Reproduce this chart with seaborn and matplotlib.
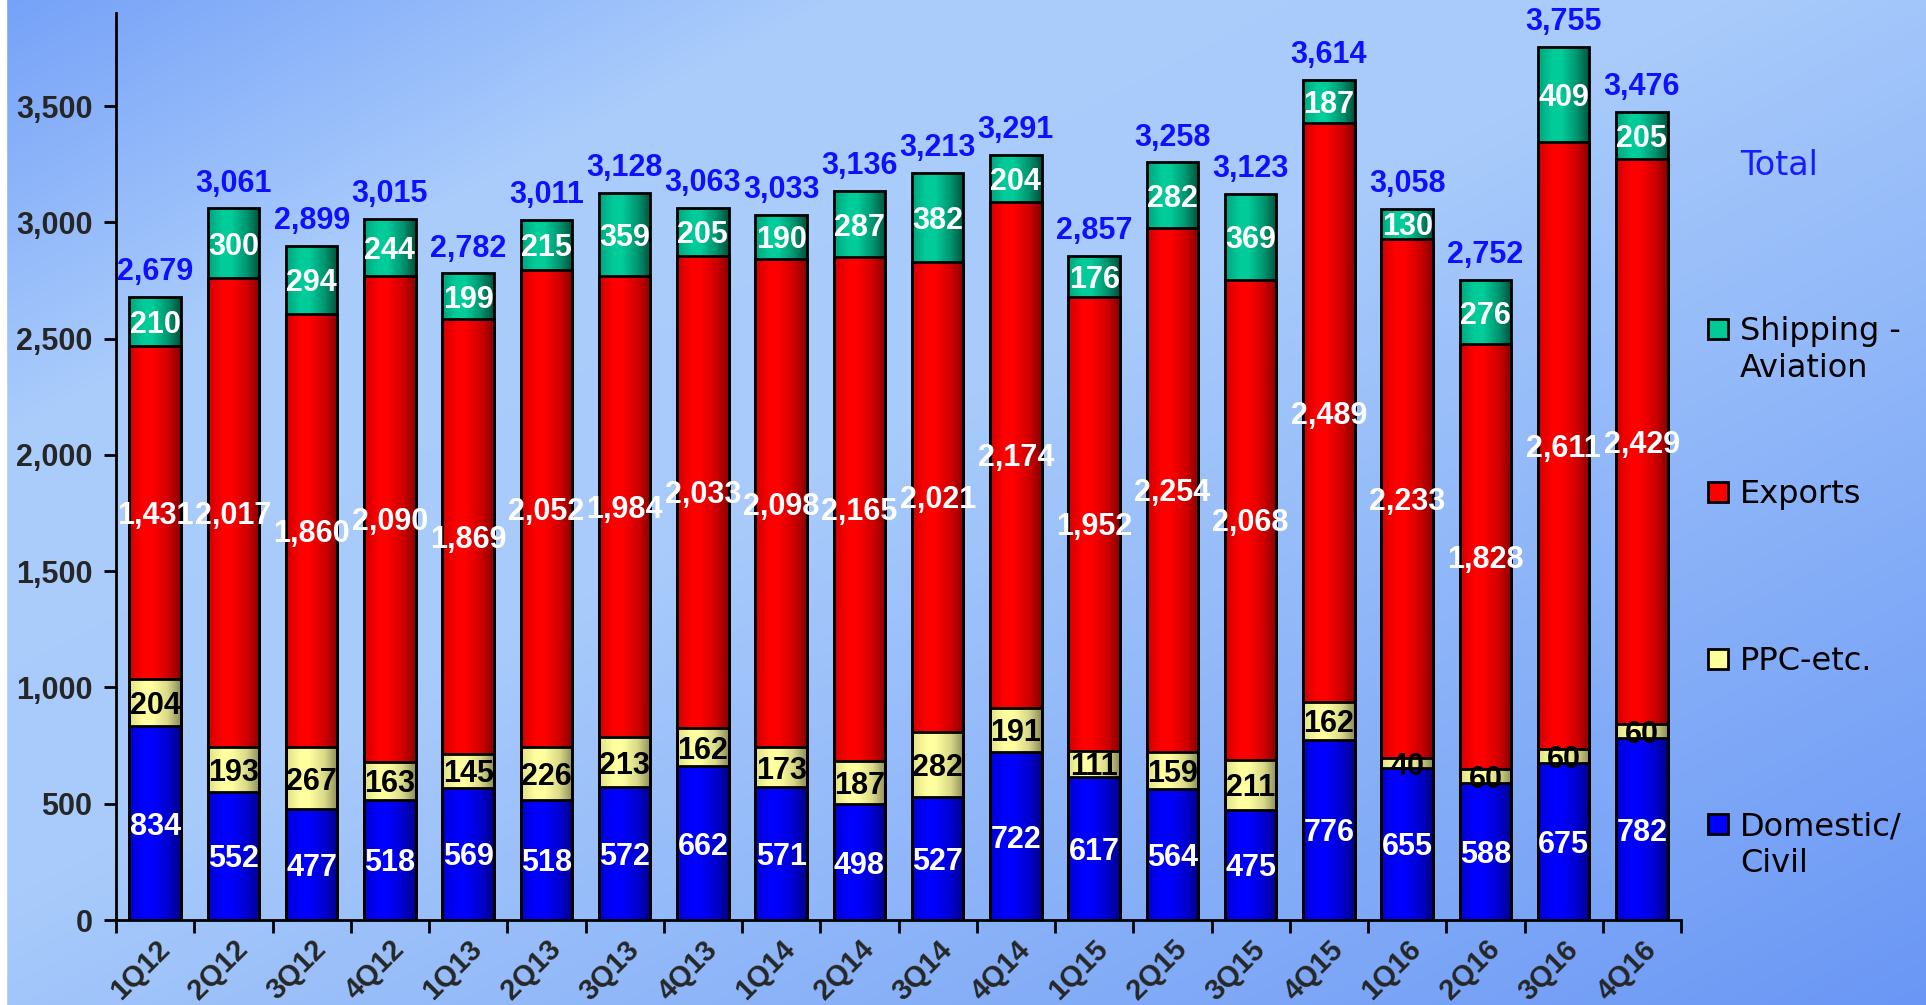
import numpy as np
import pandas as pd
import matplotlib
matplotlib.use("Agg")
import matplotlib.pyplot as plt
from matplotlib.colors import LinearSegmentedColormap
from matplotlib.patches import Rectangle
from matplotlib.ticker import FuncFormatter
from matplotlib.transforms import ScaledTranslation
import seaborn as sns

# ---- data -------------------------------------------------------------
quarters = ["1Q12", "2Q12", "3Q12", "4Q12", "1Q13", "2Q13", "3Q13", "4Q13",
            "1Q14", "2Q14", "3Q14", "4Q14", "1Q15", "2Q15", "3Q15", "4Q15",
            "1Q16", "2Q16", "3Q16", "4Q16"]
domestic = [834, 552, 477, 518, 569, 518, 572, 662, 571, 498,
            527, 722, 617, 564, 475, 776, 655, 588, 675, 782]
ppc = [204, 193, 267, 163, 145, 226, 213, 162, 173, 187,
       282, 191, 111, 159, 211, 162, 40, 60, 60, 60]
exports = [1431, 2017, 1860, 2090, 1869, 2052, 1984, 2033, 2098, 2165,
           2021, 2174, 1952, 2254, 2068, 2489, 2233, 1828, 2611, 2429]
shipping = [210, 300, 294, 244, 199, 215, 359, 205, 190, 287,
            382, 204, 176, 282, 369, 187, 130, 276, 409, 205]
totals = [2679, 3061, 2899, 3015, 2782, 3011, 3128, 3063, 3033, 3136,
          3213, 3291, 2857, 3258, 3123, 3614, 3058, 2752, 3755, 3476]
yticks = [0, 500, 1000, 1500, 2000, 2500, 3000, 3500]

W, H = 1926, 1005
sns.set_theme(style="white")
plt.rcParams["font.family"] = ["Liberation Sans", "DejaVu Sans"]
LEGEND_FONT = ["DejaVu Sans"]

fig = plt.figure(figsize=(W / 100, H / 100), dpi=100)

# ---- background gradient (diagonal: darker corners, light band) --------
bg = fig.add_axes([0, 0, 1, 1], zorder=-10)
yy, xx = np.mgrid[0:H, 0:W]
t = (xx / W + yy / H) / 2.0
stops = [(0.0, "#76a2f8"), (0.22, "#abcdfc"), (0.45, "#a8cbfb"), (1.0, "#6a97f5")]
bg_cmap = LinearSegmentedColormap.from_list("bg", stops)
bg.imshow(bg_cmap(t), extent=(0, 1, 0, 1), aspect="auto", origin="upper")
bg.add_patch(Rectangle((0, 0), 6 / W, 1, color="white", transform=bg.transAxes))
bg.set_xlim(0, 1)
bg.set_ylim(0, 1)
bg.axis("off")

# ---- main axes ----------------------------------------------------------
left, right, bottom, top = 116, 1681, 920, 13
ax = fig.add_axes([left / W, 1 - bottom / H, (right - left) / W, (bottom - top) / H], zorder=1)
ax.set_facecolor("none")

dom_arr = np.array(domestic)
lvl_ppc = dom_arr + np.array(ppc)
lvl_exp = lvl_ppc + np.array(exports)

def shade(name, c_edge_l, c_peak, c_mid, c_dark):
    return LinearSegmentedColormap.from_list(
        name, [(0.0, c_edge_l), (0.28, c_peak), (0.45, c_peak), (0.75, c_mid), (1.0, c_dark)])

layers = [
    ("Shipping -\nAviation", totals, "#00c896",
     shade("g", "#00a47c", "#00cc9a", "#009470", "#00503a")),
    ("Exports", lvl_exp, "#ff0000",
     shade("r", "#d00000", "#ff0000", "#d00000", "#880000")),
    ("PPC-etc.", lvl_ppc, "#ffff99",
     shade("y", "#dede86", "#ffffa0", "#d8d888", "#8c8c58")),
    ("Domestic/\nCivil", dom_arr, "#0000ff",
     shade("b", "#0000d0", "#0000ff", "#0000d0", "#000088")),
]

grad = np.linspace(0, 1, 256).reshape(1, -1)
for k, (name, vals, base, cmap) in enumerate(layers):
    n0 = len(ax.patches)
    sns.barplot(x=quarters, y=list(vals), order=quarters, color=base, width=0.66,
                saturation=1, errorbar=None, edgecolor="black", linewidth=2,
                ax=ax)
    for p in ax.patches[n0:]:
        x0, y0 = p.get_x(), p.get_y()
        w, h = p.get_width(), p.get_height()
        p.set_facecolor("none")
        p.set_zorder(5)
        im = ax.imshow(grad, cmap=cmap, extent=(x0, x0 + w, y0, y0 + h),
                       aspect="auto", interpolation="bilinear", zorder=2 + 0.1 * k)
        im.set_clip_path(p)

# ---- segment labels -----------------------------------------------------
lab_kw = dict(ha="center", va="center_baseline", fontsize=22, fontweight="bold", zorder=7)
for i in range(len(quarters)):
    ax.text(i, domestic[i] / 2, f"{domestic[i]:,}", color="white", **lab_kw)
    ax.text(i, lvl_ppc[i] - ppc[i] / 2, f"{ppc[i]:,}", color="black", **lab_kw)
    ax.text(i, lvl_exp[i] - exports[i] / 2, f"{exports[i]:,}", color="white", **lab_kw)
    ax.text(i, totals[i] - shipping[i] / 2, f"{shipping[i]:,}", color="white", **lab_kw)
    ax.annotate(f"{totals[i]:,}", (i, totals[i]), xytext=(0, 28),
                textcoords="offset pixels", color="#1010ff", **lab_kw)

# ---- axes styling -------------------------------------------------------
ax.set_xlim(-0.5, len(quarters) - 0.5)
ax.set_ylim(0, 3900)
ax.set_xlabel("")
ax.set_ylabel("")
for s in ["top", "right"]:
    ax.spines[s].set_visible(False)
for s in ["left", "bottom"]:
    ax.spines[s].set_color("black")
    ax.spines[s].set_linewidth(2)

ax.set_yticks(yticks)
ax.yaxis.set_major_formatter(FuncFormatter(lambda v, _: f"{int(v):,}"))
ax.tick_params(axis="y", which="major", direction="out", length=9, width=2,
               color="black", pad=8, labelsize=22, left=True)
for lab in ax.get_yticklabels():
    lab.set_fontweight("bold")

ax.set_xticks(range(len(quarters)))
ax.set_xticklabels(quarters, rotation=45, ha="right", va="top",
                   rotation_mode="anchor", fontsize=21, fontweight="bold")
shift = ScaledTranslation(-14 / 100, 0, fig.dpi_scale_trans)
for lab in ax.get_xticklabels():
    lab.set_transform(lab.get_transform() + shift)
ax.set_xticks(np.arange(-0.5, len(quarters), 1.0), minor=True)
ax.tick_params(axis="x", which="major", length=0, pad=11)
ax.tick_params(axis="x", which="minor", direction="out", length=9, width=2,
               color="black", bottom=True)
ax.grid(False)

# ---- legend (right side) --------------------------------------------------
def fx(px):
    return px / W

def fy(py):
    return 1 - py / H

fig.text(fx(1740), fy(163 + 12), "Total", color="#1a1aff", fontsize=24,
         va="baseline", family=LEGEND_FONT)
legend_y = [329, 492, 659, 824]
for (name, _, base, _), cy in zip(layers, legend_y):
    fig.patches.append(Rectangle((fx(1708), fy(cy + 10)), 20 / W, 20 / H,
                                 transform=fig.transFigure, facecolor=base,
                                 edgecolor="black", linewidth=2, figure=fig))
    for j, line in enumerate(name.split("\n")):
        fig.text(fx(1740), fy(cy + 11 + 37 * j), line, color="black",
                 fontsize=23, va="baseline", family=LEGEND_FONT)

fig.savefig("out.png", dpi=100)
